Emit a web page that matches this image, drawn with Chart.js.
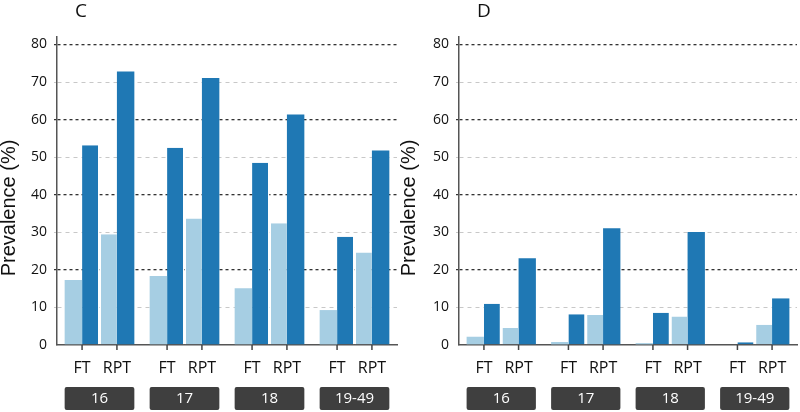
<!DOCTYPE html>
<html>
<head>
<meta charset="utf-8">
<script src="https://cdn.jsdelivr.net/npm/chart.js@4"></script>
<style>
  body { margin: 0; background: #fff; }
  #wrap { position: relative; width: 800px; height: 412px; }
  .panel { position: absolute; top: 0; width: 400px; height: 412px; }
</style>
</head>
<body>
<div id="wrap">
  <div class="panel" style="left:0"><canvas id="chartC"></canvas></div>
  <div class="panel" style="left:400px"><canvas id="chartD"></canvas></div>
</div>
<script>
// age groups and test types
var ageGroups = ['16', '17', '18', '19-49'];
var testTypes = ['FT', 'RPT'];
var yTicks = [0, 10, 20, 30, 40, 50, 60, 70, 80];
var yTitle = 'Prevalence (%)';

// panel C
var cFTLight  = [17.3, 18.4, 15.1, 9.3];
var cFTDark   = [53.2, 52.5, 48.5, 28.8];
var cRPTLight = [29.5, 33.7, 32.4, 24.6];
var cRPTDark  = [72.8, 71.1, 61.4, 51.8];

// panel D
var dFTLight  = [2.2, 0.8, 0.5, 0];
var dFTDark   = [11.0, 8.2, 8.6, 0.7];
var dRPTLight = [4.5, 8.0, 7.6, 5.4];
var dRPTDark  = [23.1, 31.1, 30.1, 12.4];

var lightBlue = '#a6cee3';
var darkBlue = '#1f78b4';
var font = "'Open Sans', 'Noto Sans', sans-serif";

// draws tick marks, FT / RPT labels, the grey age boxes, the y title and the panel letter
var groupLabels = {
	id: 'groupLabels',
	afterDraw: function(chart, args, opts)
	{
		var ctx = chart.ctx;
		var area = chart.chartArea;
		var metas = [0, 1, 2, 3].map(function(i){ return chart.getDatasetMeta(i).data; });
		ctx.save();
		ageGroups.forEach(function(age, i)
		{
			var a = metas[0][i], b = metas[1][i], c = metas[2][i], d = metas[3][i];
			var ftX = (a.x + b.x) / 2;
			var rptX = (c.x + d.x) / 2;
			ctx.strokeStyle = '#444';
			ctx.lineWidth = 1.5;
			[ftX, rptX].forEach(function(x){
				ctx.beginPath();
				ctx.moveTo(x, area.bottom);
				ctx.lineTo(x, area.bottom + 5);
				ctx.stroke();
			});
			ctx.fillStyle = '#111';
			ctx.font = '16px ' + font;
			ctx.textAlign = 'center';
			ctx.textBaseline = 'middle';
			ctx.fillText(testTypes[0], ftX, area.bottom + 23);
			ctx.fillText(testTypes[1], rptX, area.bottom + 23);

			var x0 = a.x - a.width / 2;
			var x1 = d.x + d.width / 2;
			ctx.fillStyle = '#3f3f3f';
			ctx.beginPath();
			ctx.roundRect(x0, area.bottom + 42, x1 - x0, 23, 2);
			ctx.fill();
			ctx.fillStyle = '#fff';
			ctx.font = '15px ' + font;
			ctx.fillText(age, (x0 + x1) / 2, area.bottom + 54);
		});
		ctx.fillStyle = '#111';
		ctx.font = '19px ' + font;
		ctx.textAlign = 'left';
		ctx.textBaseline = 'alphabetic';
		ctx.fillText(opts.letter, area.left + 18, 17);

		// rotated y axis title
		ctx.translate(15, 208);
		ctx.rotate(-Math.PI / 2);
		ctx.textAlign = 'center';
		ctx.font = "20px 'Liberation Sans', Arial, sans-serif";
		ctx.fillText(yTitle, 0, 0);
		ctx.restore();
	}
};

function makeChart(id, letter, axisWidth, ftLight, ftDark, rptLight, rptDark)
{
	var chartdata =
	{
		labels: ageGroups,
		datasets:
		[
			{ label: 'FT light', data: ftLight, backgroundColor: lightBlue },
			{ label: 'FT dark', data: ftDark, backgroundColor: darkBlue,
			  borderColor: '#fff', borderWidth: { right: 1.5 } },
			{ label: 'RPT light', data: rptLight, backgroundColor: lightBlue,
			  borderColor: '#fff', borderWidth: { left: 1.5 } },
			{ label: 'RPT dark', data: rptDark, backgroundColor: darkBlue }
		]
	};
	return new Chart(document.getElementById(id), {
		type: 'bar',
		data: chartdata,
		plugins: [groupLabels],
		options: {
			responsive: true,
			maintainAspectRatio: false,
			animation: false,
			layout: { padding: { top: 37, right: 3, left: 0, bottom: 0 } },
			datasets: { bar: { categoryPercentage: 0.82, barPercentage: 1.0 } },
			plugins: {
				legend: { display: false },
				tooltip: { enabled: false },
				groupLabels: { letter: letter }
			},
			scales: {
				x: {
					grid: { display: false },
					border: { color: '#555', width: 1.5 },
					ticks: { display: false },
					afterFit: function(scale){ scale.height = 67; }
				},
				y: {
					min: 0,
					max: 82,
					afterBuildTicks: function(scale){
						scale.ticks = yTicks.map(function(v){ return { value: v }; });
					},
					ticks: {
						includeBounds: false,
						padding: 7,
						color: '#111',
						font: { family: font, size: 14 }
					},
					grid: {
						tickLength: 3,
						color: function(ctx){
							var v = ctx.tick ? ctx.tick.value : 0;
							if (v === 0) return 'rgba(0,0,0,0)';
							return v % 20 === 0 ? '#333' : '#c8c8c8';
						},
						lineWidth: function(ctx){
							var v = ctx.tick ? ctx.tick.value : 0;
							return v % 20 === 0 ? 1.3 : 1;
						}
					},
					border: {
						color: '#555',
						width: 1.5,
						dash: function(ctx){
							var v = ctx.tick ? ctx.tick.value : 0;
							return v % 20 === 0 ? [3, 3] : [4, 4];
						}
					},
					title: { display: false },
					afterFit: function(scale){ scale.width = axisWidth; }
				}
			}
		}
	});
}

makeChart('chartC', 'C', 57, cFTLight, cFTDark, cRPTLight, cRPTDark);
makeChart('chartD', 'D', 59, dFTLight, dFTDark, dRPTLight, dRPTDark);
</script>
</body>
</html>
